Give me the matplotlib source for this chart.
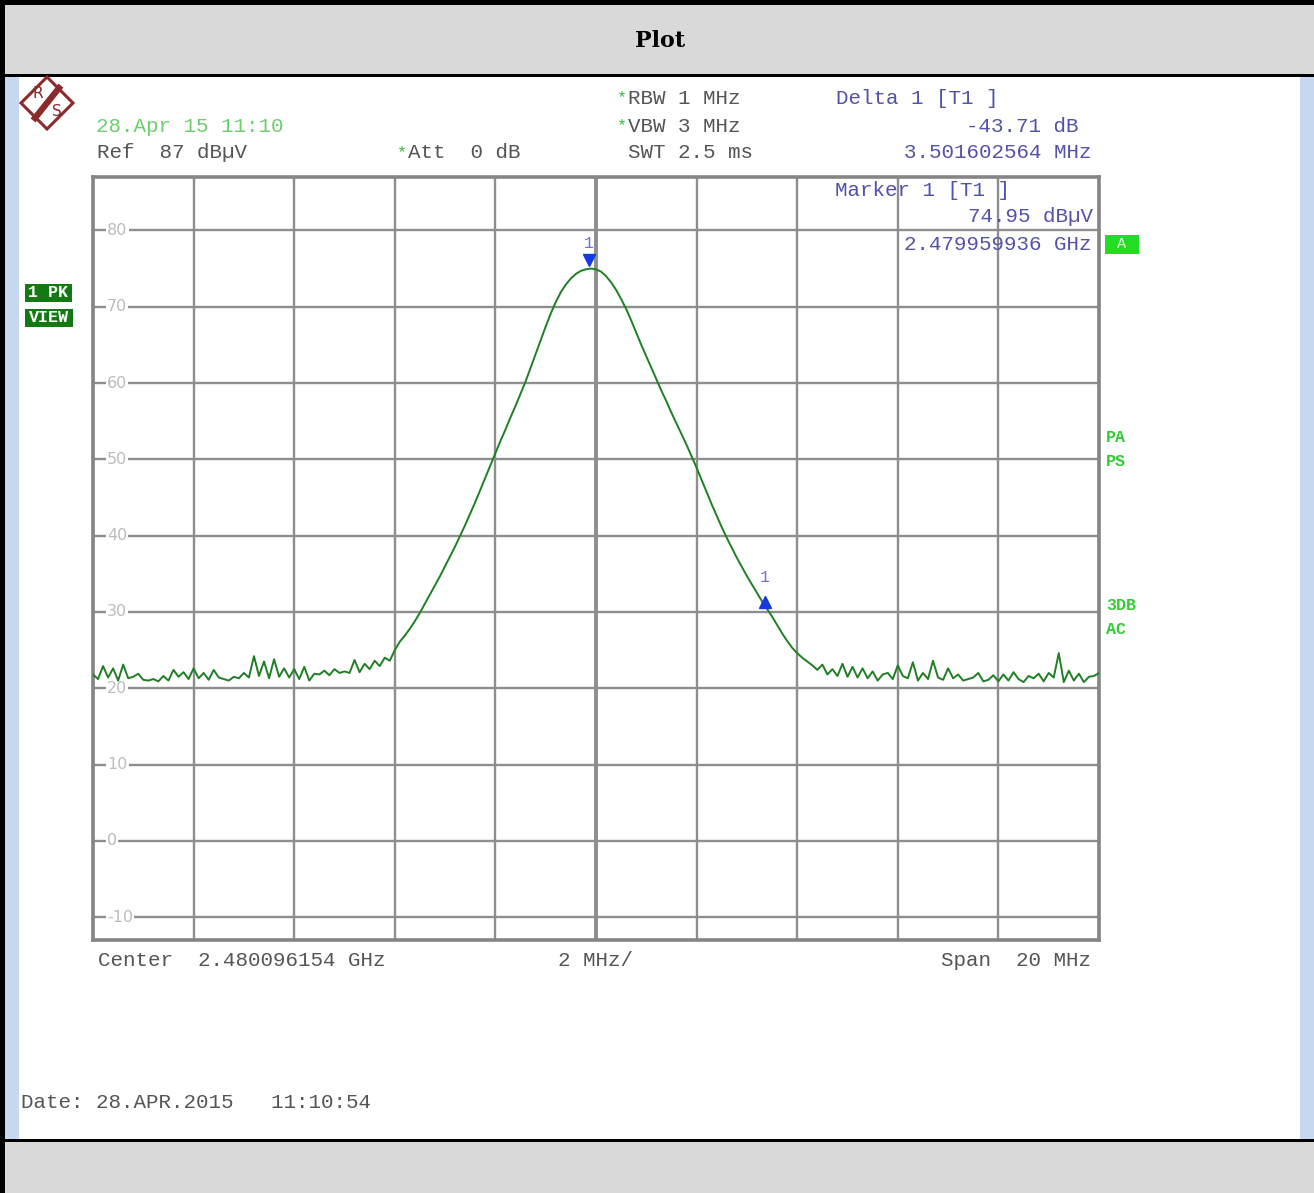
import numpy as np
import matplotlib.pyplot as plt
from matplotlib.patches import Rectangle, Polygon
from matplotlib.lines import Line2D
from matplotlib.transforms import offset_copy

W, H = 1314, 1193

# analyzer settings
center_mhz = 2480.096154
span_mhz = 20.0
ref_level = 87
bottom_level = -13
y_grid = [80, 70, 60, 50, 40, 30, 20, 10, 0, -10]
n_div = 10

# marker readouts
mk1_ghz = 2.479959936
mk1_level = 74.95
delta_db = -43.71
delta_mhz = 3.501602564

# trace (dBuV), 201 points over the span
trace_left = [21.8, 21.2, 22.9, 21.4, 22.6, 21.0, 23.1, 21.3, 21.5, 21.9,
              21.1, 21.0, 21.2, 20.9, 21.6, 21.0, 22.4, 21.5, 22.1, 21.2,
              22.6, 21.3, 22.0, 21.1, 22.4, 21.4, 21.2, 21.0, 21.5, 21.3,
              22.0, 21.4, 24.2, 21.6, 23.5, 21.3, 23.8, 21.5, 22.6, 21.4,
              22.5, 21.2, 22.8, 21.0, 21.9, 21.8, 22.3, 21.7, 22.5, 22.0,
              22.2, 22.0, 23.7, 22.1, 23.2, 22.5, 23.6, 22.9, 24.0, 23.6,
              25.0]
trace_peak = [26.1, 26.9, 27.8, 28.8, 29.9, 31.1, 32.3, 33.5, 34.7, 36.0,
              37.3, 38.6, 40.0, 41.4, 42.9, 44.4, 46.0, 47.6, 49.2, 50.8,
              52.4, 53.9, 55.5, 57.0, 58.6, 60.2, 62.0, 63.8, 65.6, 67.4,
              69.1, 70.6, 71.9, 72.9, 73.7, 74.3, 74.7, 74.9, 75.0, 74.9,
              74.6, 74.0, 73.2, 72.2, 71.0, 69.7, 68.2, 66.6, 65.0, 63.5,
              62.0, 60.5, 59.0, 57.6, 56.1, 54.7, 53.3, 51.9, 50.4, 48.9,
              47.3, 45.7, 44.1, 42.6, 41.1, 39.7, 38.4, 37.1, 35.9, 34.7,
              33.6, 32.5, 31.4, 30.4, 29.4, 28.3, 27.2, 26.2, 25.3, 24.6,
              24.0, 23.5]
trace_right = [23.0, 22.4, 23.1, 21.8, 22.5, 21.6, 23.2, 21.5, 22.8, 21.4,
               22.6, 21.3, 22.2, 21.0, 21.8, 22.0, 21.2, 23.0, 21.6, 21.3,
               23.4, 21.0, 22.0, 21.2, 23.6, 21.4, 21.1, 22.6, 21.3, 21.8,
               21.0, 21.2, 21.4, 22.0, 20.9, 21.1, 21.7, 20.9, 21.8, 21.0,
               22.1, 21.2, 20.8, 21.6, 21.3, 21.9, 20.9, 22.0, 21.4, 24.6,
               20.8, 22.3, 21.0, 21.9, 20.8, 21.5, 21.6, 22.0]

level = np.array(trace_left + trace_peak + trace_right)
f_start = center_mhz - span_mhz / 2
f_stop = center_mhz + span_mhz / 2
freq = np.linspace(f_start, f_stop, len(level))

MONO = 'Liberation Mono'
GRAY = '#555555'
BLUE = '#5252a8'
GREEN_TXT = '#6ccf6c'
STAR = '#33bb33'

fig = plt.figure(figsize=(W / 100, H / 100), dpi=100)


def rect(x0, y0, x1, y1, color):
    # rectangle in screen pixels (top-left origin)
    fig.add_artist(Rectangle((x0 / W, 1 - y1 / H), (x1 - x0) / W, (y1 - y0) / H,
                             transform=fig.transFigure, facecolor=color,
                             edgecolor='none', zorder=-5))


def label(x, y, s, color=GRAY, ha='left', size=15, **kw):
    fig.text(x / W, 1 - y / H, s, color=color, ha=ha, va='center',
             family=MONO, fontsize=size, **kw)


# page background: header band, content, footer band, borders
rect(0, 0, W, H, 'black')
rect(5, 5, W, 74, '#d9d9d9')
rect(5, 77, W, 1139, 'white')
rect(5, 77, 19, 1139, '#c6d9f0')
rect(1300, 77, W, 1139, '#c6d9f0')
rect(5, 1142, W, H, '#d9d9d9')
fig.text(660 / W, 1 - 41 / H, 'Plot', ha='center', va='center',
         family='DejaVu Serif', fontweight='bold', fontsize=16, color='black')

# screen axes
ax = fig.add_axes([93 / W, 1 - 940 / H, 1006 / W, 763 / H])
ax.set_facecolor('white')
ax.plot(freq, level, color='#1f7f24', lw=1.4, zorder=3)
ax.set_xlim(f_start, f_stop)
ax.set_ylim(bottom_level, ref_level)
ax.set_xticks(np.linspace(f_start, f_stop, n_div + 1))
ax.set_yticks(y_grid)
ax.grid(True, color='#8e8e8e', lw=1.7, zorder=1)
ax.axvline(center_mhz, color='#7a7a7a', lw=2.6, zorder=1)
ax.tick_params(length=0, labelleft=False, labelbottom=False)
for sp in ax.spines.values():
    sp.set_color('#858585')
    sp.set_linewidth(2.6)

for v in y_grid:
    ax.text(0.014, v, str(v), transform=ax.get_yaxis_transform(), ha='left',
            va='center', color='#bcbcbc', fontsize=11.5, zorder=2,
            bbox=dict(facecolor='white', edgecolor='none', pad=0.8))

# markers
mk1_mhz = mk1_ghz * 1000
d1_mhz = mk1_mhz + delta_mhz
d1_level = mk1_level + delta_db
tr_down = offset_copy(ax.transData, fig=fig, y=9, units='dots')
ax.plot(mk1_mhz, mk1_level, marker='v', color='#1538e0', ms=8,
        transform=tr_down, zorder=4)
ax.plot(d1_mhz, d1_level, marker='^', color='#1538e0', ms=8, zorder=4)
tr_lab = offset_copy(ax.transData, fig=fig, y=25, units='dots')
ax.text(mk1_mhz, mk1_level, '1', transform=tr_lab, ha='center', va='center',
        family=MONO, fontsize=12, color='#7272c8')
ax.text(d1_mhz, d1_level, '1', transform=tr_lab, ha='center', va='center',
        family=MONO, fontsize=12, color='#7272c8')

# header annotations
label(96, 126, '28.Apr 15 11:10', color=GREEN_TXT)
label(97, 153, 'Ref  87 dB\u00b5V')
label(397, 153, '*', color=STAR, size=12)
label(408, 153, 'Att  0 dB')
label(617, 98, '*', color=STAR, size=12)
label(628, 98, 'RBW 1 MHz')
label(617, 126, '*', color=STAR, size=12)
label(628, 126, 'VBW 3 MHz')
label(628, 153, 'SWT 2.5 ms')
label(836, 98, 'Delta 1 [T1 ]', color=BLUE)
label(1078, 126, '%.2f dB' % delta_db, color=BLUE, ha='right')
label(1091, 153, '%.9f MHz' % delta_mhz, color=BLUE, ha='right')
label(835, 190, 'Marker 1 [T1 ]', color=BLUE)
label(1093, 217, '%.2f dB\u00b5V' % mk1_level, color=BLUE, ha='right')
label(1091, 245, '%.9f GHz' % mk1_ghz, color=BLUE, ha='right')

# footer annotations
label(98, 961, 'Center  %.9f GHz' % (center_mhz / 1000))
label(558, 961, '%d MHz/' % (span_mhz / n_div))
label(1091, 961, 'Span  %d MHz' % span_mhz, ha='right')
label(21, 1102, 'Date: 28.APR.2015   11:10:54')

# status boxes
rect(1105, 235, 1139, 254, '#22dd22')
label(1122, 244.5, 'A', color='#e8ffe8', ha='center', size=11)
rect(25, 284, 72, 302, '#137a13')
label(48.5, 293, '1 PK', color='white', ha='center', size=12, fontweight='bold')
rect(25, 309, 73, 327, '#137a13')
label(49, 318, 'VIEW', color='white', ha='center', size=12, fontweight='bold')
for txt, yy in [('PA', 437), ('PS', 461), ('3DB', 605), ('AC', 629)]:
    label(1106, yy, txt, color='#33cc33', size=12, fontweight='bold')

# R&S logo
cx, cy, r = 47, 103, 26
pts = [(cx / W, 1 - (cy - r) / H), ((cx + r) / W, 1 - cy / H),
       (cx / W, 1 - (cy + r) / H), ((cx - r) / W, 1 - cy / H)]
fig.add_artist(Polygon(pts, closed=True, transform=fig.transFigure,
                       facecolor='white', edgecolor='#8a2a2a', lw=2.2, zorder=4))
fig.add_artist(Line2D([59 / W, 35 / W], [1 - 88 / H, 1 - 118 / H],
                      transform=fig.transFigure, color='#8a2a2a', lw=4.5, zorder=5))
fig.text(38 / W, 1 - 94 / H, 'R', color='#8a2a2a', fontsize=11, ha='center',
         va='center', zorder=6)
fig.text(57 / W, 1 - 112 / H, 'S', color='#8a2a2a', fontsize=11, ha='center',
         va='center', zorder=6)

fig.savefig('out.png', dpi=100)
